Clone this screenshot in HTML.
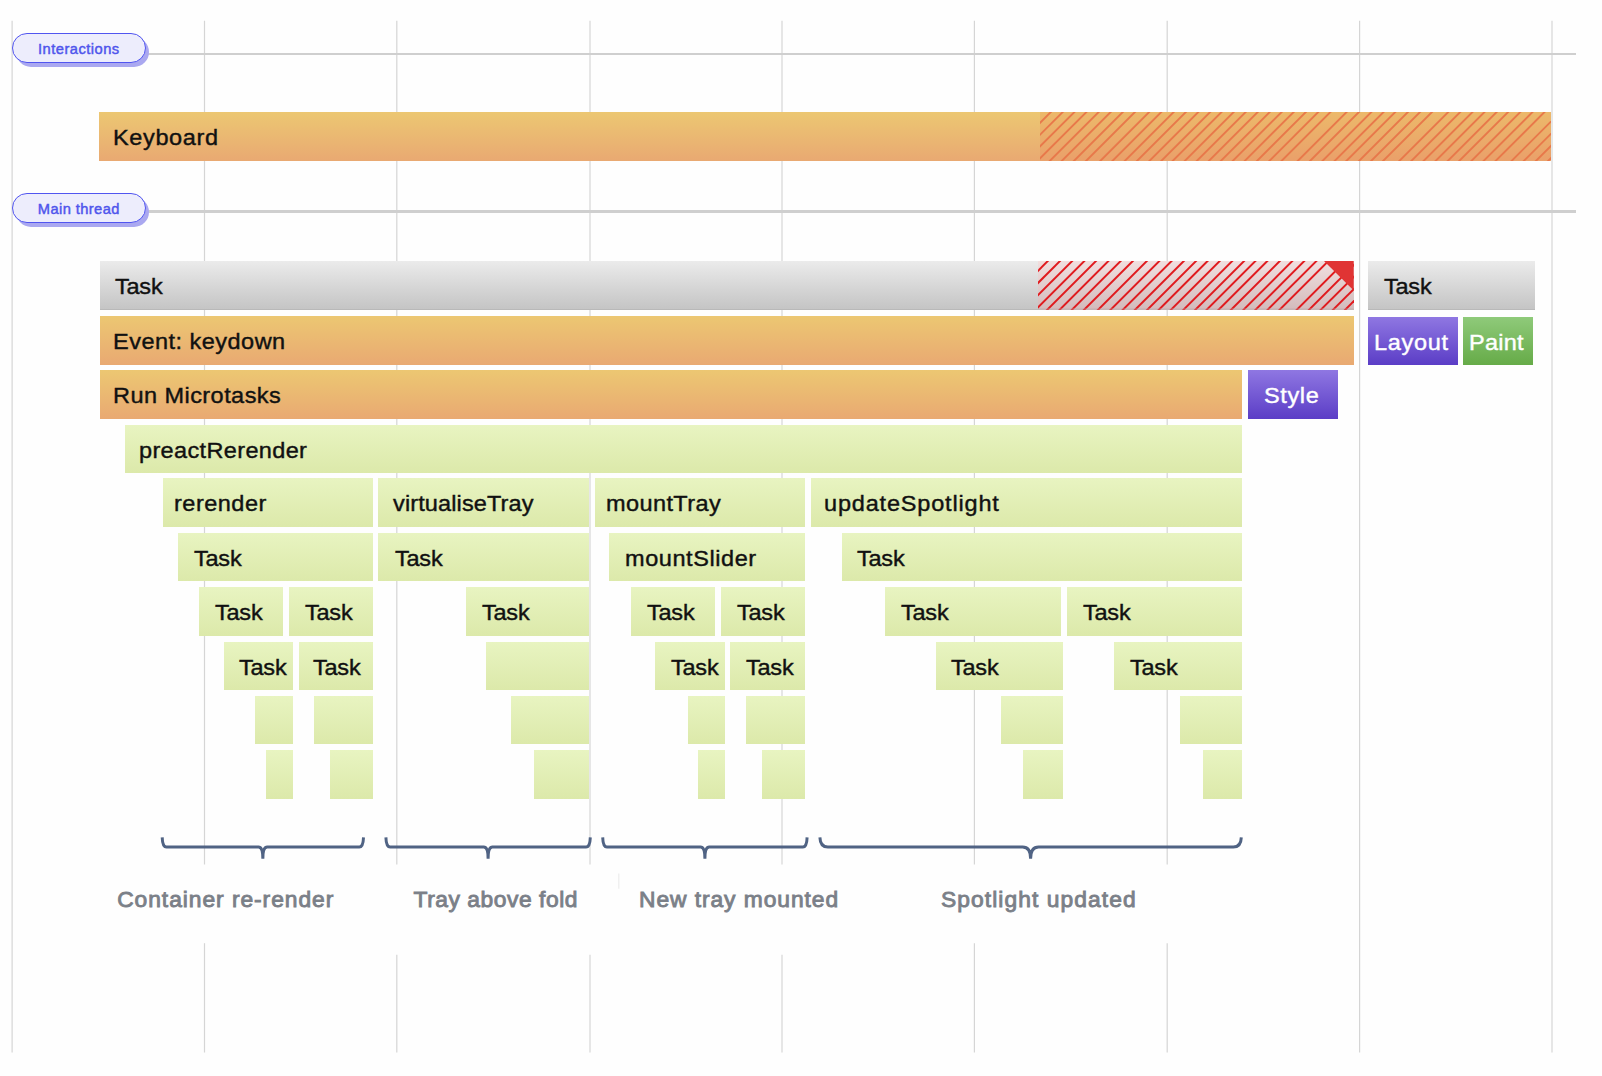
<!DOCTYPE html><html><head><meta charset="utf-8"><style>
html,body{margin:0;padding:0;background:#fefefe;}
body{width:1602px;height:1076px;position:relative;overflow:hidden;font-family:"Liberation Sans", sans-serif;}
.vl{position:absolute}
.hs{position:absolute;overflow:hidden}
.pill{position:absolute;width:133.7px;height:30.1px;border:1.7px solid #5155f0;border-radius:15.05px;background:#ededfc;color:#4f55ec;font-size:14.7px;text-align:center;line-height:30.1px;box-sizing:border-box;letter-spacing:0.3px;-webkit-text-stroke:0.45px #4f55ec}
.pillsh{position:absolute;width:133.7px;height:30.1px;border-radius:15.05px;background:#aaa8f0}
.bar{position:absolute;box-sizing:border-box}
.bar span{position:absolute;top:0;line-height:48.4px;font-size:22.4px;transform:scaleX(1.05);transform-origin:0 0;color:#111;white-space:nowrap;-webkit-text-stroke:0.4px #111}
.orange{background:linear-gradient(#ecc772,#e9a972)}
.gray{background:linear-gradient(#ebebeb,#c4c4c4);box-shadow:inset 0 -1px 0 #b9b9b9}
.lime{background:linear-gradient(#e8f4c1,#dce9aa)}
.purple{background:linear-gradient(#8f77e2,#5b3dc6)}
.purple span,.green span{color:#fff;-webkit-text-stroke:0.4px #fff}
.green{background:linear-gradient(#8fca7a,#66ab48)}
.lbl{position:absolute;font-size:22.8px;color:#7b8088;white-space:nowrap;line-height:36px;-webkit-text-stroke:0.9px #7b8088}
</style></head><body><svg class="hs" style="left:0;top:0" width="1602" height="1076"><line x1="12.1" y1="20.8" x2="12.1" y2="1052.5" stroke="#d5d5d5" stroke-width="1.2"/><line x1="204.5" y1="20.8" x2="204.5" y2="864.6" stroke="#d5d5d5" stroke-width="1.2"/><line x1="204.5" y1="943.2" x2="204.5" y2="1052.5" stroke="#d5d5d5" stroke-width="1.2"/><line x1="396.8" y1="20.8" x2="396.8" y2="864.6" stroke="#d5d5d5" stroke-width="1.2"/><line x1="396.8" y1="954.7" x2="396.8" y2="1052.5" stroke="#d5d5d5" stroke-width="1.2"/><line x1="590.0" y1="20.8" x2="590.0" y2="864.6" stroke="#d5d5d5" stroke-width="1.2"/><line x1="590.0" y1="954.7" x2="590.0" y2="1052.5" stroke="#d5d5d5" stroke-width="1.2"/><line x1="782.0" y1="20.8" x2="782.0" y2="864.6" stroke="#d5d5d5" stroke-width="1.2"/><line x1="782.0" y1="954.7" x2="782.0" y2="1052.5" stroke="#d5d5d5" stroke-width="1.2"/><line x1="974.4" y1="20.8" x2="974.4" y2="864.6" stroke="#d5d5d5" stroke-width="1.2"/><line x1="974.4" y1="943.2" x2="974.4" y2="1052.5" stroke="#d5d5d5" stroke-width="1.2"/><line x1="1167.2" y1="20.8" x2="1167.2" y2="864.6" stroke="#d5d5d5" stroke-width="1.2"/><line x1="1167.2" y1="943.2" x2="1167.2" y2="1052.5" stroke="#d5d5d5" stroke-width="1.2"/><line x1="1359.6" y1="20.8" x2="1359.6" y2="1052.5" stroke="#d5d5d5" stroke-width="1.2"/><line x1="1552.0" y1="20.8" x2="1552.0" y2="1052.5" stroke="#d5d5d5" stroke-width="1.2"/><line x1="618.8" y1="873.4" x2="618.8" y2="888.7" stroke="#ededed" stroke-width="1.2"/></svg><div style="position:absolute;left:140px;top:52.7px;width:1436px;height:2.6px;background:#cfcfcf"></div><div style="position:absolute;left:140px;top:210.3px;width:1436px;height:2.6px;background:#cfcfcf"></div><div class="pillsh" style="left:15.5px;top:36.9px"></div><div class="pill" style="left:12px;top:32.9px;letter-spacing:0.48px"><span>Interactions</span></div><div class="pillsh" style="left:15.5px;top:196.7px"></div><div class="pill" style="left:12px;top:192.7px;letter-spacing:0.4px"><span>Main thread</span></div><div class="bar orange" style="left:99.20px;top:112.10px;width:1452.00px;height:48.70px;"><span style="left:14.01px;top:2.35px;letter-spacing:0.600px">Keyboard</span></div><div class="bar gray" style="left:99.50px;top:261.10px;width:1254.20px;height:48.50px;"><span style="left:15.55px;top:2.25px;letter-spacing:-0.225px">Task</span></div><div class="bar gray" style="left:1368.40px;top:261.10px;width:166.20px;height:48.50px;"><span style="left:15.95px;top:2.25px;letter-spacing:-0.225px">Task</span></div><div class="bar orange" style="left:99.50px;top:315.70px;width:1254.20px;height:48.90px;"><span style="left:13.21px;top:2.45px;letter-spacing:0.453px">Event: keydown</span></div><div class="bar purple" style="left:1368.40px;top:316.90px;width:90.00px;height:48.40px;"><span style="left:5.81px;top:2.20px;letter-spacing:0.676px">Layout</span></div><div class="bar green" style="left:1462.80px;top:316.90px;width:70.50px;height:48.40px;"><span style="left:6.41px;top:2.20px;letter-spacing:0.219px">Paint</span></div><div class="bar orange" style="left:99.50px;top:369.80px;width:1142.80px;height:49.05px;"><span style="left:13.71px;top:2.53px;letter-spacing:0.424px">Run Microtasks</span></div><div class="bar purple" style="left:1247.70px;top:369.80px;width:90.10px;height:49.05px;"><span style="left:15.90px;top:2.53px;letter-spacing:0.600px">Style</span></div><div class="bar lime" style="left:124.90px;top:424.50px;width:1117.40px;height:48.30px;"><span style="left:14.26px;top:2.15px;letter-spacing:0.336px">preactRerender</span></div><div class="bar lime" style="left:162.60px;top:478.20px;width:210.20px;height:48.55px;"><span style="left:11.56px;top:2.28px;letter-spacing:0.464px">rerender</span></div><div class="bar lime" style="left:378.30px;top:478.20px;width:210.50px;height:48.55px;"><span style="left:14.70px;top:2.28px;letter-spacing:0.116px">virtualiseTray</span></div><div class="bar lime" style="left:594.90px;top:478.20px;width:210.10px;height:48.55px;"><span style="left:11.26px;top:2.28px;letter-spacing:0.386px">mountTray</span></div><div class="bar lime" style="left:810.70px;top:478.20px;width:431.70px;height:48.55px;"><span style="left:13.46px;top:2.28px;letter-spacing:0.777px">updateSpotlight</span></div><div class="bar lime" style="left:177.50px;top:532.65px;width:195.30px;height:48.75px;"><span style="left:16.45px;top:2.38px;letter-spacing:-0.225px">Task</span></div><div class="bar lime" style="left:378.30px;top:532.65px;width:210.50px;height:48.75px;"><span style="left:16.85px;top:2.38px;letter-spacing:-0.225px">Task</span></div><div class="bar lime" style="left:609.40px;top:532.65px;width:195.60px;height:48.75px;"><span style="left:15.26px;top:2.38px;letter-spacing:0.543px">mountSlider</span></div><div class="bar lime" style="left:841.70px;top:532.65px;width:400.70px;height:48.75px;"><span style="left:15.55px;top:2.38px;letter-spacing:-0.225px">Task</span></div><div class="bar lime" style="left:199.00px;top:586.70px;width:83.70px;height:49.15px;"><span style="left:15.55px;top:2.57px;letter-spacing:-0.225px">Task</span></div><div class="bar lime" style="left:289.00px;top:586.70px;width:83.80px;height:49.15px;"><span style="left:15.65px;top:2.57px;letter-spacing:-0.225px">Task</span></div><div class="bar lime" style="left:466.20px;top:586.70px;width:122.60px;height:49.15px;"><span style="left:16.15px;top:2.57px;letter-spacing:-0.225px">Task</span></div><div class="bar lime" style="left:630.90px;top:586.70px;width:84.40px;height:49.15px;"><span style="left:15.85px;top:2.57px;letter-spacing:-0.225px">Task</span></div><div class="bar lime" style="left:720.60px;top:586.70px;width:84.40px;height:49.15px;"><span style="left:16.15px;top:2.57px;letter-spacing:-0.225px">Task</span></div><div class="bar lime" style="left:885.30px;top:586.70px;width:175.70px;height:49.15px;"><span style="left:15.55px;top:2.57px;letter-spacing:-0.225px">Task</span></div><div class="bar lime" style="left:1066.70px;top:586.70px;width:175.70px;height:49.15px;"><span style="left:15.85px;top:2.57px;letter-spacing:-0.225px">Task</span></div><div class="bar lime" style="left:223.60px;top:641.90px;width:69.30px;height:48.10px;"><span style="left:15.55px;top:2.05px;letter-spacing:-0.225px">Task</span></div><div class="bar lime" style="left:298.50px;top:641.90px;width:74.30px;height:48.10px;"><span style="left:14.95px;top:2.05px;letter-spacing:-0.225px">Task</span></div><div class="bar lime" style="left:485.50px;top:641.90px;width:103.30px;height:48.10px;"></div><div class="bar lime" style="left:655.20px;top:641.90px;width:69.60px;height:48.10px;"><span style="left:16.25px;top:2.05px;letter-spacing:-0.225px">Task</span></div><div class="bar lime" style="left:730.10px;top:641.90px;width:74.90px;height:48.10px;"><span style="left:16.25px;top:2.05px;letter-spacing:-0.225px">Task</span></div><div class="bar lime" style="left:935.90px;top:641.90px;width:127.30px;height:48.10px;"><span style="left:15.55px;top:2.05px;letter-spacing:-0.225px">Task</span></div><div class="bar lime" style="left:1114.40px;top:641.90px;width:128.00px;height:48.10px;"><span style="left:15.85px;top:2.05px;letter-spacing:-0.225px">Task</span></div><div class="bar lime" style="left:255.20px;top:695.80px;width:37.70px;height:48.40px;"></div><div class="bar lime" style="left:314.30px;top:695.80px;width:58.50px;height:48.40px;"></div><div class="bar lime" style="left:511.10px;top:695.80px;width:77.70px;height:48.40px;"></div><div class="bar lime" style="left:687.80px;top:695.80px;width:37.00px;height:48.40px;"></div><div class="bar lime" style="left:746.20px;top:695.80px;width:58.80px;height:48.40px;"></div><div class="bar lime" style="left:1000.70px;top:695.80px;width:62.50px;height:48.40px;"></div><div class="bar lime" style="left:1179.80px;top:695.80px;width:62.60px;height:48.40px;"></div><div class="bar lime" style="left:266.00px;top:750.30px;width:26.90px;height:48.40px;"></div><div class="bar lime" style="left:330.20px;top:750.30px;width:42.60px;height:48.40px;"></div><div class="bar lime" style="left:533.50px;top:750.30px;width:55.30px;height:48.40px;"></div><div class="bar lime" style="left:698.20px;top:750.30px;width:26.60px;height:48.40px;"></div><div class="bar lime" style="left:762.40px;top:750.30px;width:42.60px;height:48.40px;"></div><div class="bar lime" style="left:1023.00px;top:750.30px;width:40.20px;height:48.40px;"></div><div class="bar lime" style="left:1202.90px;top:750.30px;width:39.50px;height:48.40px;"></div><svg width="0" height="0" style="position:absolute"><defs><linearGradient id="gor" x1="0" y1="0" x2="0" y2="1"><stop offset="0" stop-color="#ecb96a"/><stop offset="1" stop-color="#eaa06a"/></linearGradient><linearGradient id="gpk" x1="0" y1="0" x2="0" y2="1"><stop offset="0" stop-color="#f1dfdf"/><stop offset="1" stop-color="#d3bbbc"/></linearGradient></defs></svg><svg class="hs" style="left:1040.10px;top:112.10px" width="511.10" height="48.70" viewBox="0 0 511.10 48.70"><rect width="511.10" height="48.70" fill="url(#gor)"/><g stroke="#e8784a" stroke-width="1.9"><line x1="14.80" y1="-4" x2="-41.90" y2="52.70"/><line x1="26.70" y1="-4" x2="-30.00" y2="52.70"/><line x1="38.40" y1="-4" x2="-18.30" y2="52.70"/><line x1="50.40" y1="-4" x2="-6.30" y2="52.70"/><line x1="62.70" y1="-4" x2="6.00" y2="52.70"/><line x1="74.70" y1="-4" x2="18.00" y2="52.70"/><line x1="86.80" y1="-4" x2="30.10" y2="52.70"/><line x1="98.90" y1="-4" x2="42.20" y2="52.70"/><line x1="113.20" y1="-4" x2="56.50" y2="52.70"/><line x1="125.30" y1="-4" x2="68.60" y2="52.70"/><line x1="137.70" y1="-4" x2="81.00" y2="52.70"/><line x1="149.90" y1="-4" x2="93.20" y2="52.70"/><line x1="162.30" y1="-4" x2="105.60" y2="52.70"/><line x1="174.20" y1="-4" x2="117.50" y2="52.70"/><line x1="185.60" y1="-4" x2="128.90" y2="52.70"/><line x1="197.70" y1="-4" x2="141.00" y2="52.70"/><line x1="209.70" y1="-4" x2="153.00" y2="52.70"/><line x1="221.80" y1="-4" x2="165.10" y2="52.70"/><line x1="233.80" y1="-4" x2="177.10" y2="52.70"/><line x1="245.70" y1="-4" x2="189.00" y2="52.70"/><line x1="257.70" y1="-4" x2="201.00" y2="52.70"/><line x1="269.90" y1="-4" x2="213.20" y2="52.70"/><line x1="282.30" y1="-4" x2="225.60" y2="52.70"/><line x1="294.50" y1="-4" x2="237.80" y2="52.70"/><line x1="310.70" y1="-4" x2="254.00" y2="52.70"/><line x1="323.00" y1="-4" x2="266.30" y2="52.70"/><line x1="335.40" y1="-4" x2="278.70" y2="52.70"/><line x1="347.60" y1="-4" x2="290.90" y2="52.70"/><line x1="359.30" y1="-4" x2="302.60" y2="52.70"/><line x1="372.00" y1="-4" x2="315.30" y2="52.70"/><line x1="384.10" y1="-4" x2="327.40" y2="52.70"/><line x1="396.10" y1="-4" x2="339.40" y2="52.70"/><line x1="412.30" y1="-4" x2="355.60" y2="52.70"/><line x1="424.30" y1="-4" x2="367.60" y2="52.70"/><line x1="436.60" y1="-4" x2="379.90" y2="52.70"/><line x1="448.60" y1="-4" x2="391.90" y2="52.70"/><line x1="460.80" y1="-4" x2="404.10" y2="52.70"/><line x1="472.20" y1="-4" x2="415.50" y2="52.70"/><line x1="484.40" y1="-4" x2="427.70" y2="52.70"/><line x1="496.60" y1="-4" x2="439.90" y2="52.70"/><line x1="508.60" y1="-4" x2="451.90" y2="52.70"/><line x1="524.60" y1="-4" x2="467.90" y2="52.70"/><line x1="536.80" y1="-4" x2="480.10" y2="52.70"/><line x1="548.90" y1="-4" x2="492.20" y2="52.70"/><line x1="561.10" y1="-4" x2="504.40" y2="52.70"/></g></svg><svg class="hs" style="left:1038.00px;top:261.10px" width="315.70" height="48.50" viewBox="0 0 315.70 48.50"><rect width="315.70" height="48.50" fill="url(#gpk)"/><g stroke="#e01a1e" stroke-width="1.95"><line x1="13.80" y1="-4" x2="-42.70" y2="52.50"/><line x1="26.00" y1="-4" x2="-30.50" y2="52.50"/><line x1="38.20" y1="-4" x2="-18.30" y2="52.50"/><line x1="50.40" y1="-4" x2="-6.10" y2="52.50"/><line x1="62.00" y1="-4" x2="5.50" y2="52.50"/><line x1="74.45" y1="-4" x2="17.95" y2="52.50"/><line x1="86.70" y1="-4" x2="30.20" y2="52.50"/><line x1="98.85" y1="-4" x2="42.35" y2="52.50"/><line x1="112.90" y1="-4" x2="56.40" y2="52.50"/><line x1="125.40" y1="-4" x2="68.90" y2="52.50"/><line x1="137.65" y1="-4" x2="81.15" y2="52.50"/><line x1="149.85" y1="-4" x2="93.35" y2="52.50"/><line x1="162.05" y1="-4" x2="105.55" y2="52.50"/><line x1="173.60" y1="-4" x2="117.10" y2="52.50"/><line x1="185.75" y1="-4" x2="129.25" y2="52.50"/><line x1="198.25" y1="-4" x2="141.75" y2="52.50"/><line x1="210.15" y1="-4" x2="153.65" y2="52.50"/><line x1="221.45" y1="-4" x2="164.95" y2="52.50"/><line x1="233.35" y1="-4" x2="176.85" y2="52.50"/><line x1="245.85" y1="-4" x2="189.35" y2="52.50"/><line x1="258.30" y1="-4" x2="201.80" y2="52.50"/><line x1="270.30" y1="-4" x2="213.80" y2="52.50"/><line x1="282.45" y1="-4" x2="225.95" y2="52.50"/><line x1="294.40" y1="-4" x2="237.90" y2="52.50"/><line x1="311.60" y1="-4" x2="255.10" y2="52.50"/><line x1="323.80" y1="-4" x2="267.30" y2="52.50"/><line x1="335.60" y1="-4" x2="279.10" y2="52.50"/><line x1="347.80" y1="-4" x2="291.30" y2="52.50"/><line x1="360.00" y1="-4" x2="303.50" y2="52.50"/></g><rect x="0" y="47.50" width="315.70" height="1" fill="#c2a9aa" opacity="0.6"/><polygon points="286.00,0 315.70,0 315.70,29.60" fill="#e03434"/></svg><svg class="hs" style="left:0;top:0" width="1602" height="1076"><path d="M162.2,837.4 Q162.5,847.1 166.39999999999998,847.1 L258.55,847.1 C261.345,847.1 262.85,850.1 262.85,858.7 M363.5,837.4 Q363.2,847.1 359.3,847.1 L267.15000000000003,847.1 C264.355,847.1 262.85,850.1 262.85,858.7 M385.9,837.4 Q386.2,847.1 390.09999999999997,847.1 L483.8,847.1 C486.595,847.1 488.1,850.1 488.1,858.7 M590.3,837.4 Q590.0,847.1 586.0999999999999,847.1 L492.40000000000003,847.1 C489.605,847.1 488.1,850.1 488.1,858.7 M602.7,837.4 Q603.0,847.1 606.9000000000001,847.1 L700.6,847.1 C703.395,847.1 704.9,850.1 704.9,858.7 M807.1,837.4 Q806.8000000000001,847.1 802.9,847.1 L709.1999999999999,847.1 C706.405,847.1 704.9,850.1 704.9,858.7 M819.9,837.4 Q820.1999999999999,847.1 827.9,847.1 L1022.5999999999999,847.1 C1027.8,847.1 1030.6,850.1 1030.6,858.7 M1241.3,837.4 Q1241.0,847.1 1233.3,847.1 L1038.6,847.1 C1033.3999999999999,847.1 1030.6,850.1 1030.6,858.7" fill="none" stroke="#506384" stroke-width="3" stroke-linecap="butt" stroke-linejoin="round"/></svg><div class="lbl" style="left:117.20px;top:881.3px;letter-spacing:0.951px">Container re-render</div><div class="lbl" style="left:413.60px;top:881.3px;letter-spacing:0.539px">Tray above fold</div><div class="lbl" style="left:639.00px;top:881.3px;letter-spacing:0.940px">New tray mounted</div><div class="lbl" style="left:941.00px;top:881.3px;letter-spacing:1.073px">Spotlight updated</div></body></html>
